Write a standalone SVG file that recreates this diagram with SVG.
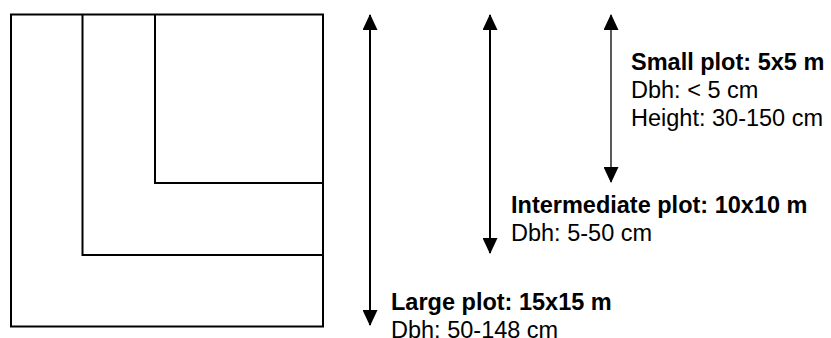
<svg xmlns="http://www.w3.org/2000/svg" width="831" height="338" viewBox="0 0 831 338">
<style>
.plot{fill:none;stroke:#000;stroke-width:2}
.conn{stroke:#000;stroke-width:2;fill:none}
.thin{stroke-width:1.3}
text{font-family:"Liberation Sans",Arial,sans-serif;font-size:23.5px;fill:#000}
.b{font-weight:bold}
</style>
<defs>
<marker id="ah" viewBox="0 0 16 15" refX="15" refY="7.5" markerWidth="16" markerHeight="15" markerUnits="userSpaceOnUse" orient="auto-start-reverse">
<path d="M0,0 L16,7.5 L0,15 Z" fill="#000"/>
</marker>
</defs>
<rect width="831" height="338" fill="#fff"/>
<g id="large-plot"><rect class="plot" x="11" y="14.5" width="312" height="312"/></g>
<g id="intermediate-plot"><path class="plot" d="M82.5,14.5 V255 H323"/></g>
<g id="small-plot"><path class="plot" d="M155,14.5 V183 H323"/></g>
<g id="connectors">
<line class="conn" x1="370" y1="15" x2="370" y2="325" marker-start="url(#ah)" marker-end="url(#ah)"/>
<line class="conn" x1="490" y1="15" x2="490" y2="253" marker-start="url(#ah)" marker-end="url(#ah)"/>
<line class="conn thin" x1="611" y1="15" x2="611" y2="182" marker-start="url(#ah)" marker-end="url(#ah)"/>
</g>
<g id="small-label">
<text class="b" x="631" y="70">Small plot: 5x5 m</text>
<text x="631" y="98">Dbh: &lt; 5 cm</text>
<text x="631" y="126">Height: 30-150 cm</text>
</g>
<g id="intermediate-label">
<text class="b" x="511" y="213">Intermediate plot: 10x10 m</text>
<text x="511" y="241">Dbh: 5-50 cm</text>
</g>
<g id="large-label">
<text class="b" x="391" y="310">Large plot: 15x15 m</text>
<text x="391" y="338">Dbh: 50-148 cm</text>
</g>
</svg>
